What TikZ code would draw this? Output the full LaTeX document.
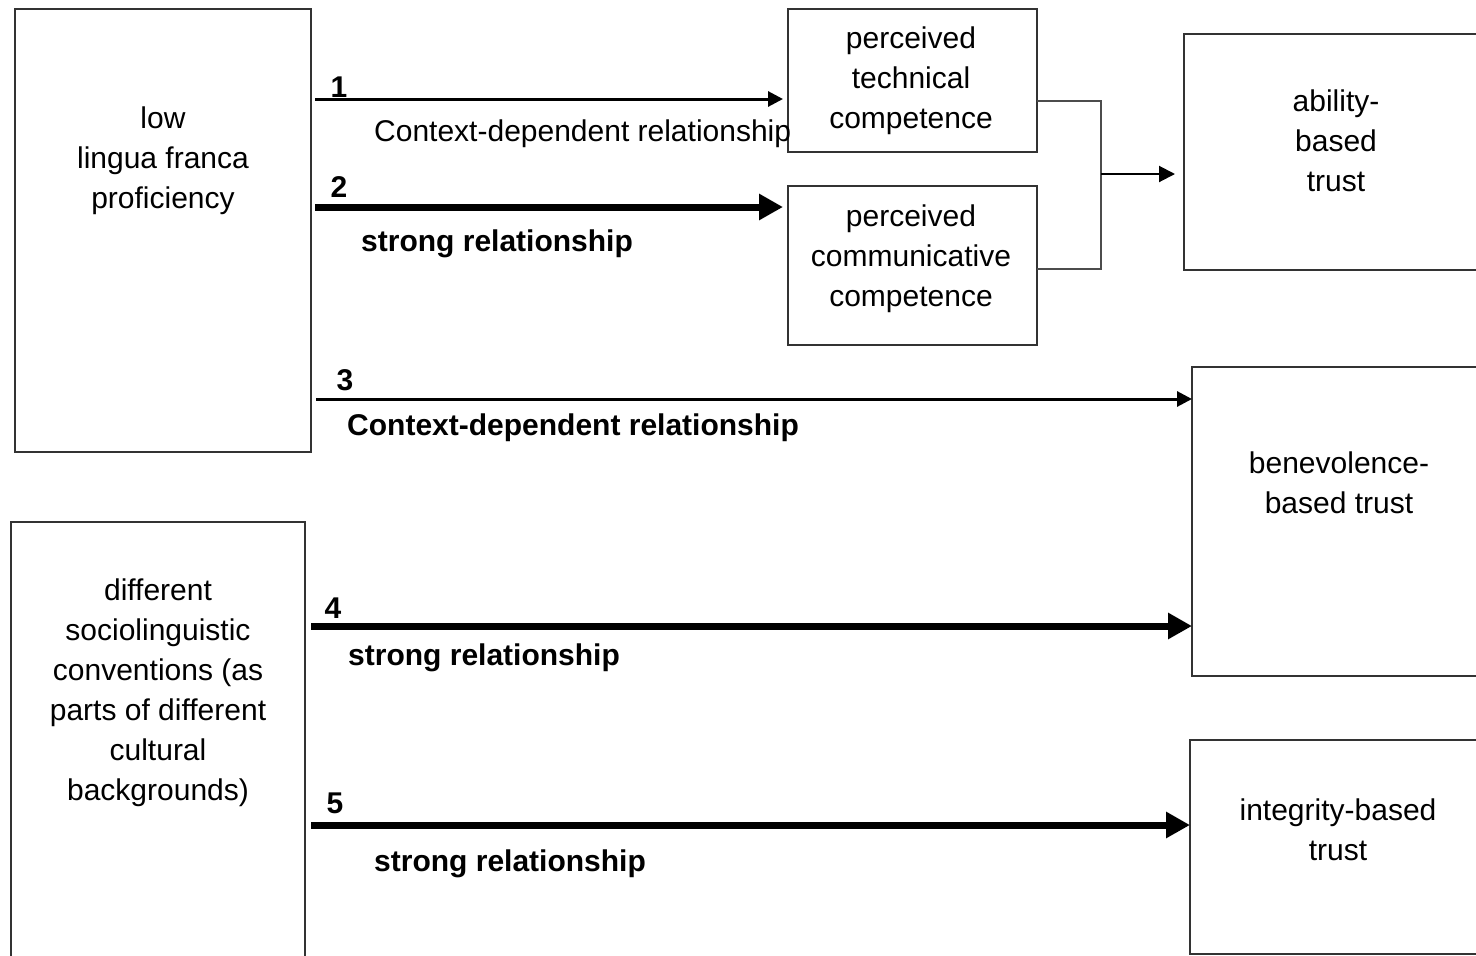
\documentclass[tikz,border=0pt]{standalone}
\usepackage{fontspec}
\setmainfont{Liberation Sans}
\usetikzlibrary{arrows.meta}
\begin{document}
\begin{tikzpicture}[x=1pt,y=-1pt,
  box/.style={draw=black!80, line width=1.5pt, rectangle, inner sep=0pt, outer sep=0pt},
  boxtext/.style={align=center, font=\fontsize{30}{40}\selectfont, inner sep=0pt, anchor=base},
  lbl/.style={font=\fontsize{30}{36}\selectfont, inner sep=0pt, anchor=base west},
  blbl/.style={lbl, font=\fontsize{30}{36}\selectfont\bfseries},
  num/.style={font=\fontsize{30}{36}\selectfont\bfseries, inner sep=0pt, anchor=base},
  weak/.style={line width=3pt, -{Triangle[length=15pt,width=15pt]}},
  strong/.style={line width=7pt, -{Triangle[length=24pt,width=25pt]}},
  merge/.style={draw=black!70, line width=2pt},
]
\useasboundingbox (0,0) rectangle (1476,956);
\clip (0,0) rectangle (1476,956);

% boxes
\node[box, minimum width=296pt, minimum height=443pt] (lfp) at (163,230.5) {};
\node[box, minimum width=294pt, minimum height=460pt] (soc) at (158,752) {};
\node[box, minimum width=249pt, minimum height=143pt] (ptc) at (912.5,80.5) {};
\node[box, minimum width=249pt, minimum height=159pt] (pcc) at (912.5,265.5) {};
\node[box, minimum width=320pt, minimum height=236pt] (abt) at (1344,152) {};
\node[box, minimum width=310pt, minimum height=309pt] (bbt) at (1347,521.5) {};
\node[box, minimum width=310pt, minimum height=214pt] (ibt) at (1345,847) {};

% box texts (anchored at the baseline of their last line)
\node[boxtext] (lfpT) at (163,208) {low\\lingua franca\\proficiency};
\node[boxtext] (socT) at (158,800) {different\\sociolinguistic\\conventions (as\\parts of different\\cultural\\backgrounds)};
\node[boxtext] (ptcT) at (911,128) {perceived\\technical\\competence};
\node[boxtext] (pccT) at (911,306) {perceived\\communicative\\competence};
\node[boxtext] (abtT) at (1336,191) {ability-\\based\\trust};
\node[boxtext] (bbtT) at (1339,513) {benevolence-\\based trust};
\node[boxtext] (ibtT) at (1338,860) {integrity-based\\trust};

% relationships
\draw[weak, shorten <=4pt, shorten >=5pt] (lfp.east |- 0,99) -- (ptc.west |- 0,99);
\draw[strong, shorten <=4pt, shorten >=5pt] (lfp.east |- 0,207) -- (pcc.west |- 0,207);
\draw[weak, shorten <=5pt] (lfp.east |- 0,399) -- (bbt.west |- 0,399);
\draw[strong, shorten <=6pt] (soc.east |- 0,626) -- (bbt.west |- 0,626);
\draw[strong, shorten <=6pt] (soc.east |- 0,825) -- (ibt.west |- 0,825);

% labels
\node[num] (n1) at (339,97) {1};
\node[lbl] (l1) at (374,141) {Context-dependent relationship};
\node[num] (n2) at (339,197) {2};
\node[blbl] (l2) at (361,251) {strong relationship};
\node[num] (n3) at (345,390) {3};
\node[blbl] (l3) at (347,435) {Context-dependent relationship};
\node[num] (n4) at (333,618) {4};
\node[blbl] (l4) at (348,665) {strong relationship};
\node[num] (n5) at (335,813) {5};
\node[blbl] (l5) at (374,871) {strong relationship};

% competences merge into ability-based trust
\coordinate (j) at (1101,174);
\draw[merge] (ptc.east |- 0,101) -| (j) |- (pcc.east |- 0,269);
\draw[line width=2pt, -{Triangle[length=16pt,width=16pt]}, shorten >=9pt] (j) -- (abt.west |- j);
\end{tikzpicture}
\end{document}
